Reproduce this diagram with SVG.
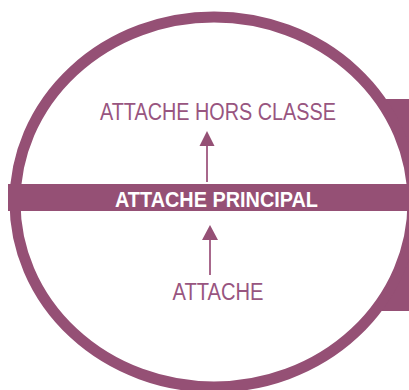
<svg xmlns="http://www.w3.org/2000/svg" width="409" height="390" viewBox="0 0 409 390">
  <defs>
    <style>
      .p { fill: #955075; }
      .lbl { font-family: "Liberation Sans", Arial, sans-serif; font-size: 23px; fill: #985580; text-anchor: middle; }
      .main { font-family: "Liberation Sans", Arial, sans-serif; font-size: 22px; font-weight: bold; fill: #ffffff; text-anchor: middle; }
      .ln { stroke: #a8688c; stroke-width: 2; fill: none; }
    </style>
  </defs>
  <rect width="409" height="390" fill="#ffffff"/>
  <g id="frame">
    <rect class="p" x="370" y="99" width="39" height="212"/>
    <ellipse cx="214" cy="202" rx="199" ry="185" fill="#ffffff" stroke="#955075" stroke-width="11"/>
  </g>
  <g id="node-principal">
    <rect class="p" x="8" y="184" width="401" height="27"/>
    <text class="main" x="216.5" y="206.5" textLength="203" lengthAdjust="spacingAndGlyphs">ATTACHE PRINCIPAL</text>
  </g>
  <g id="node-hors-classe">
    <text class="lbl" x="218" y="119.5" textLength="236" lengthAdjust="spacingAndGlyphs">ATTACHE HORS CLASSE</text>
  </g>
  <g id="node-attache">
    <text class="lbl" x="218" y="300" textLength="91" lengthAdjust="spacingAndGlyphs">ATTACHE</text>
  </g>
  <g id="connectors">
    <line class="ln" x1="207" y1="182" x2="207" y2="145"/>
    <polygon class="p" points="207,131 199.5,146 214.5,146"/>
    <line class="ln" x1="210" y1="275" x2="210" y2="239"/>
    <polygon class="p" points="210,225 202,240 218,240"/>
  </g>
</svg>
